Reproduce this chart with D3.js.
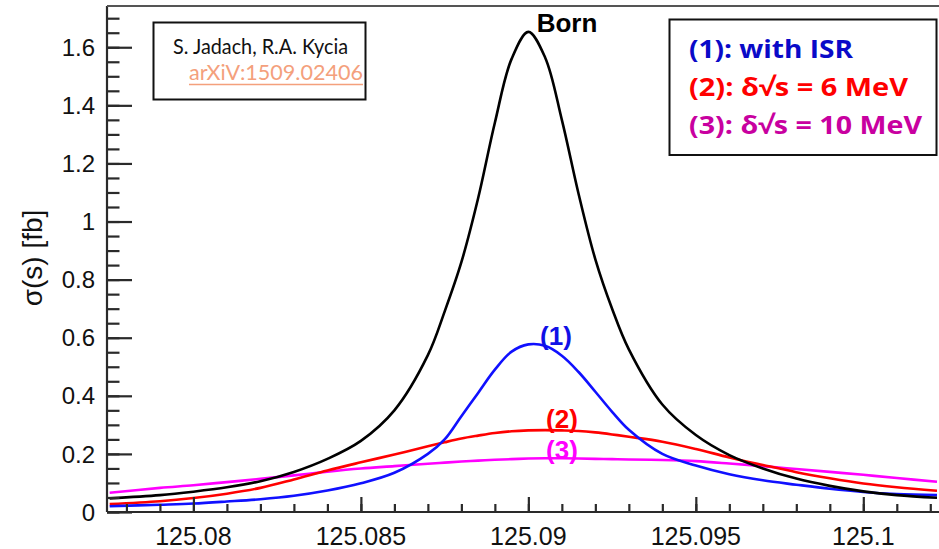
<!DOCTYPE html>
<html>
<head>
<meta charset="utf-8">
<script src="https://cdn.jsdelivr.net/npm/d3@7"></script>
<style>
  html, body { margin: 0; padding: 0; background: #ffffff; }
  svg { display: block; }
</style>
</head>
<body>
<div id="chart"></div>
<script>
// ---- data ----
const sqrtS = [125.0775, 125.079, 125.080, 125.081, 125.082, 125.083, 125.084, 125.085, 125.086, 125.087,
  125.0875, 125.088, 125.0885, 125.089, 125.0895, 125.090, 125.0905, 125.091, 125.0915, 125.092,
  125.0925, 125.093, 125.094, 125.095, 125.096, 125.097, 125.098, 125.099, 125.100, 125.101, 125.1022];
const born = [0.047, 0.058, 0.070, 0.085, 0.106, 0.138, 0.183, 0.245, 0.35, 0.54,
  0.69, 0.86, 1.08, 1.34, 1.56, 1.653, 1.565, 1.35, 1.095, 0.87,
  0.70, 0.56, 0.37, 0.265, 0.196, 0.150, 0.115, 0.090, 0.071, 0.058, 0.049];
const withISR = [0.020, 0.025, 0.029, 0.036, 0.044, 0.056, 0.074, 0.099, 0.135, 0.20,
  0.25, 0.33, 0.41, 0.49, 0.552, 0.577, 0.572, 0.538, 0.482, 0.414,
  0.345, 0.283, 0.200, 0.160, 0.130, 0.109, 0.094, 0.080, 0.069, 0.062, 0.058];
const spread6 = [0.027, 0.037, 0.048, 0.063, 0.083, 0.112, 0.143, 0.171, 0.198, 0.226,
  0.240, 0.253, 0.263, 0.272, 0.278, 0.281, 0.282, 0.281, 0.279, 0.274,
  0.267, 0.259, 0.242, 0.217, 0.188, 0.162, 0.137, 0.116, 0.098, 0.085, 0.073];
const spread10 = [0.066, 0.083, 0.092, 0.103, 0.114, 0.126, 0.139, 0.150, 0.158, 0.166,
  0.170, 0.174, 0.177, 0.180, 0.182, 0.184, 0.185, 0.185, 0.184, 0.183,
  0.182, 0.181, 0.179, 0.175, 0.167, 0.158, 0.148, 0.138, 0.128, 0.117, 0.104];

const xMajorTicks = [125.08, 125.085, 125.09, 125.095, 125.1];
const xTickLabels = ["125.08", "125.085", "125.09", "125.095", "125.1"];
const yMajorTicks = [0, 0.2, 0.4, 0.6, 0.8, 1.0, 1.2, 1.4, 1.6];
const yTickLabels = ["0", "0.2", "0.4", "0.6", "0.8", "1", "1.2", "1.4", "1.6"];

const legendLines = ["(1): with ISR", "(2): \u03B4\u221As = 6 MeV", "(3): \u03B4\u221As = 10 MeV"];
const curveLabels = ["Born", "(1)", "(2)", "(3)"];

// ---- layout ----
const W = 939, H = 549;
const pL = 107, pR = 939, pT = 6, pB = 512;

const svg = d3.select("#chart").append("svg").attr("width", W).attr("height", H)
  .style("font-family", "'Liberation Sans', Arial, sans-serif");

svg.append("rect").attr("width", W).attr("height", H).attr("fill", "#ffffff");

const x = d3.scaleLinear().domain([125.07742, 125.10226]).range([pL, pR]);
const y = d3.scaleLinear().domain([0, 1.742]).range([pB, pT]);

const defs = svg.append("defs");
defs.append("clipPath").attr("id", "plotclip").append("rect")
  .attr("x", pL).attr("y", pT).attr("width", pR - pL).attr("height", pB - pT);

// ---- curves ----
const series = [
  { v: spread10, color: "#ff00ff" },
  { v: spread6, color: "#ff0000" },
  { v: withISR, color: "#1010ff" },
  { v: born, color: "#000000" }
];
const line = d3.line().x(d => x(d[0])).y(d => y(d[1])).curve(d3.curveCatmullRom.alpha(0.5));
const g = svg.append("g").attr("clip-path", "url(#plotclip)");
series.forEach(s => {
  g.append("path")
    .datum(sqrtS.map((xv, i) => [xv, s.v[i]]))
    .attr("fill", "none").attr("stroke", s.color).attr("stroke-width", 2.6)
    .attr("stroke-linejoin", "round")
    .attr("d", line);
});

// ---- axes via d3.axis ----
const axisColor = "#2a2a2a";
const xMinor = d3.range(125.078, 125.1025, 0.001);
const yMinor = d3.range(0, 1.7001, 0.05);

function styleAxis(sel) {
  sel.select(".domain").remove();
  sel.selectAll(".tick line").attr("stroke", axisColor).attr("stroke-width", 2.2);
  sel.selectAll(".tick text").remove();
}
svg.append("g").attr("class", "xminor").attr("transform", `translate(0,${pB})`)
  .call(d3.axisTop(x).tickValues(xMinor).tickSizeInner(8).tickSizeOuter(0).tickFormat(() => ""))
  .call(styleAxis);
svg.append("g").attr("class", "xmajor").attr("transform", `translate(0,${pB})`)
  .call(d3.axisTop(x).tickValues(xMajorTicks).tickSizeInner(15).tickSizeOuter(0).tickFormat(() => ""))
  .call(styleAxis);
svg.append("g").attr("class", "yminor").attr("transform", `translate(${pL},0)`)
  .call(d3.axisRight(y).tickValues(yMinor).tickSizeInner(12.5).tickSizeOuter(0).tickFormat(() => ""))
  .call(styleAxis);
svg.append("g").attr("class", "ymajor").attr("transform", `translate(${pL},0)`)
  .call(d3.axisRight(y).tickValues(yMajorTicks).tickSizeInner(25).tickSizeOuter(0).tickFormat(() => ""))
  .call(styleAxis);

svg.append("g").selectAll("text").data(xMajorTicks).join("text")
  .attr("x", d => x(d)).attr("y", 545)
  .attr("text-anchor", "middle").attr("font-size", 25).attr("fill", "#111")
  .text((d, i) => xTickLabels[i]);
svg.append("g").selectAll("text").data(yMajorTicks).join("text")
  .attr("x", 95).attr("y", d => y(d)).attr("dy", "0.36em")
  .attr("text-anchor", "end").attr("font-size", 24).attr("fill", "#111")
  .text((d, i) => yTickLabels[i]);

// frame lines
svg.append("line").attr("x1", pL).attr("x2", pR).attr("y1", pB).attr("y2", pB)
  .attr("stroke", axisColor).attr("stroke-width", 2.2);
svg.append("line").attr("x1", pL).attr("x2", pL).attr("y1", pT).attr("y2", pB)
  .attr("stroke", axisColor).attr("stroke-width", 2.2);
svg.append("line").attr("x1", pL).attr("x2", pR).attr("y1", pT).attr("y2", pT)
  .attr("stroke", "#555").attr("stroke-width", 2);

// y title
svg.append("text")
  .attr("transform", "translate(42,258) rotate(-90)")
  .attr("text-anchor", "middle").attr("font-size", 28).attr("fill", "#111")
  .text("\u03C3(s) [fb]");

// ---- curve labels ----
const labelPos = [
  { x: 567, y: 32, color: "#000000", size: 26 },
  { x: 556, y: 345, color: "#1010e6", size: 26 },
  { x: 562, y: 428, color: "#ff0000", size: 26 },
  { x: 562, y: 459, color: "#ff00ff", size: 26 }
];
labelPos.forEach((p, i) => {
  svg.append("text").attr("x", p.x).attr("y", p.y).attr("text-anchor", "middle")
    .attr("font-weight", "bold").attr("font-size", p.size).attr("fill", p.color)
    .text(curveLabels[i]);
});

// ---- citation box ----
svg.append("rect").attr("x", 153.5).attr("y", 22.5).attr("width", 212).attr("height", 77)
  .attr("fill", "#ffffff").attr("stroke", "#111").attr("stroke-width", 2);
svg.append("text").attr("x", 173).attr("y", 54)
  .attr("font-family", "Lato, 'Open Sans', sans-serif").attr("font-size", 22).attr("fill", "#111")
  .attr("textLength", 175).attr("lengthAdjust", "spacingAndGlyphs")
  .text("S. Jadach, R.A. Kycia");
svg.append("text").attr("x", 189).attr("y", 80)
  .attr("font-family", "Lato, 'Open Sans', sans-serif").attr("font-size", 22).attr("fill", "#f4a07c")
  .attr("textLength", 174).attr("lengthAdjust", "spacingAndGlyphs")
  .text("arXiV:1509.02406");
svg.append("line").attr("x1", 189).attr("x2", 363).attr("y1", 84.5).attr("y2", 84.5)
  .attr("stroke", "#f4a07c").attr("stroke-width", 1.3);

// ---- legend box ----
svg.append("rect").attr("x", 669.5).attr("y", 19.5).attr("width", 267).attr("height", 135.5)
  .attr("fill", "#ffffff").attr("stroke", "#111").attr("stroke-width", 2);
const legendColors = ["#0a0ac8", "#ff0000", "#c800a0"];
const legendWidths = [164, 219, 233];
const legendBase = [58, 96, 134];
legendLines.forEach((t, i) => {
  svg.append("text").attr("x", 689).attr("y", legendBase[i])
    .attr("font-family", "'Open Sans', Lato, sans-serif").attr("font-weight", "bold")
    .attr("font-size", 25).attr("fill", legendColors[i])
    .attr("textLength", legendWidths[i]).attr("lengthAdjust", "spacingAndGlyphs")
    .text(t);
});
</script>
</body>
</html>
